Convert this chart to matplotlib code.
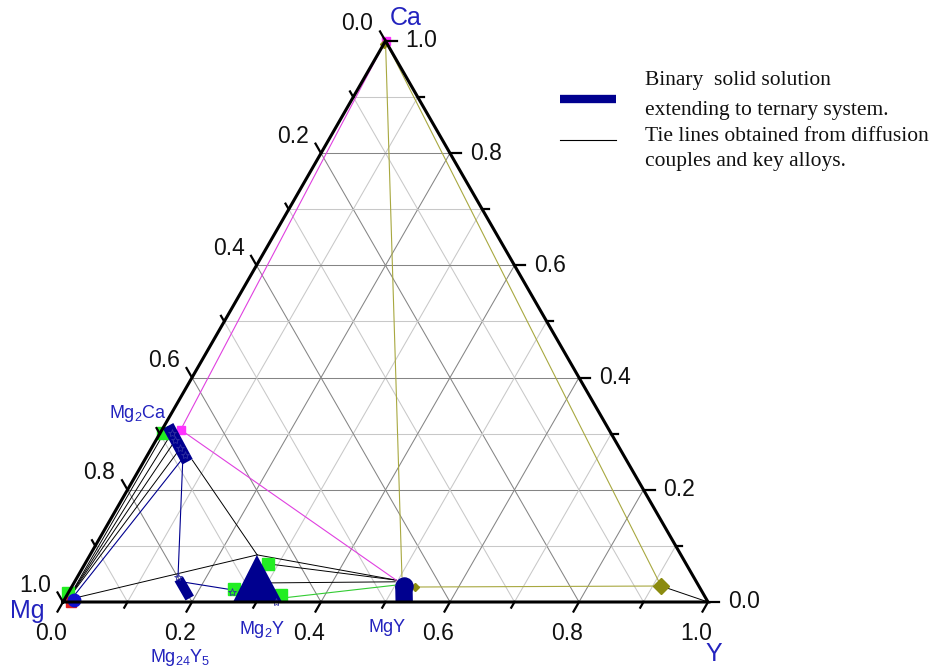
import numpy as np
import matplotlib
matplotlib.use("Agg")
import matplotlib.pyplot as plt

plt.rcParams['mathtext.default'] = 'regular'

# ---------------- data (ternary: Y fraction, Ca fraction; Mg = 1 - Y - Ca) -------------
tick_values = [0.0, 0.2, 0.4, 0.6, 0.8, 1.0]
tick_labels = ["0.0", "0.2", "0.4", "0.6", "0.8", "1.0"]
minor_values = [0.1, 0.3, 0.5, 0.7, 0.9]

# binary solid solutions extending into the ternary (thick blue bands)
mg2ca_band_Y = [0.006, 0.068]
mg2ca_band_Ca = [0.314, 0.250]
mg24y5_band_Y = [0.159, 0.193]
mg24y5_band_Ca = [0.041, 0.007]
mgy_band_Y = [0.529, 0.514]
mgy_band_Ca = [0.000, 0.029]
mg2y_region_Y = [0.2636, 0.3395, 0.2587]
mg2y_region_Ca = [0.000, 0.000, 0.0838]

# black tie lines (start Y, start Ca, end Y, end Ca)
black_tie_Y0 = [0.005, 0.005, 0.005, 0.005, 0.005, 0.074, 0.259, 0.284, 0.299, 0.913]
black_tie_Ca0 = [0.003, 0.003, 0.003, 0.003, 0.004, 0.253, 0.084, 0.068, 0.034, 0.0285]
black_tie_Y1 = [0.006, 0.018, 0.030, 0.045, 0.259, 0.259, 0.497, 0.497, 0.497, 1.000]
black_tie_Ca1 = [0.312, 0.301, 0.288, 0.274, 0.084, 0.084, 0.039, 0.039, 0.036, 0.000]

# blue tie lines
blue_tie_Y = [[0.010, 0.058], [0.0616, 0.156], [0.168, 0.253]]
blue_tie_Ca = [[0.003, 0.258], [0.2478, 0.0446], [0.0357, 0.0214]]

# green tie line
green_tie_Y = [0.336, 0.500]
green_tie_Ca = [0.007, 0.030]

# magenta tie lines
magenta_Y = [0.000, 0.029, 0.497]
magenta_Ca = [1.000, 0.307, 0.039]

# olive tie lines
olive_tie_Y = [[0.000, 0.503], [0.000, 0.913], [0.532, 0.913]]
olive_tie_Ca = [[1.000, 0.045], [1.000, 0.0285], [0.0267, 0.0285]]

# markers
green_sq_Y = [0.000, 0.004, 0.284, 0.332, 0.2535]
green_sq_Ca = [0.016, 0.301, 0.068, 0.0125, 0.023]
magenta_pt_Y = [0.029, 0.000]
magenta_pt_Ca = [0.307, 1.000]
red_pt_Y = [0.012]
red_pt_Ca = [0.000]
blue_pt_Y = [0.015]
blue_pt_Ca = [0.004]
olive_big_Y = [0.913]
olive_big_Ca = [0.0285]
olive_small_Y = [0.532, 0.000]
olive_small_Ca = [0.0267, 0.995]
star_Y = [0.018, 0.030, 0.045, 0.058, 0.156, 0.253, 0.330]
star_Ca = [0.301, 0.288, 0.274, 0.262, 0.045, 0.018, 0.000]

NAVY = "#00008F"
LBLUE = "#2323BE"
OLIVE = "#A8A840"
MAG = "#E040E0"
S3 = np.sqrt(3) / 2


def tern(y, c):
    y = np.asarray(y, dtype=float)
    c = np.asarray(c, dtype=float)
    return y + c / 2.0, c * S3


W, H = 934, 669
fig = plt.figure(figsize=(W / 100, H / 100), dpi=100)
ax = fig.add_axes([0, 0, 1, 1])
ax.set_xlim(-63 / 645, 871 / 645)
ax.set_ylim(-67 / 647.8, 602 / 647.8)
ax.axis("off")

# ---------------- grid ----------------
for v in np.round(np.arange(0.1, 1.0, 0.1), 2):
    col = "#858585" if abs(round(v * 10) % 2) < 1e-9 else "#c8c8c8"
    x, yy = tern([0, 1 - v], [v, v])
    ax.plot(x, yy, color=col, lw=0.75, zorder=1)
    x, yy = tern([v, v], [0, 1 - v])
    ax.plot(x, yy, color=col, lw=0.75, zorder=1)
    x, yy = tern([1 - v, 0], [0, 1 - v])
    ax.plot(x, yy, color=col, lw=0.75, zorder=1)

# ---------------- tie lines ----------------
for y0, c0, y1, c1 in zip(black_tie_Y0, black_tie_Ca0, black_tie_Y1, black_tie_Ca1):
    x, yy = tern([y0, y1], [c0, c1])
    ax.plot(x, yy, color="black", lw=0.7, zorder=3)
for ys, cs in zip(blue_tie_Y, blue_tie_Ca):
    x, yy = tern(ys, cs)
    ax.plot(x, yy, color=NAVY, lw=0.8, zorder=3)
x, yy = tern(green_tie_Y, green_tie_Ca)
ax.plot(x, yy, color="#33CC33", lw=0.8, zorder=3)
x, yy = tern(magenta_Y, magenta_Ca)
ax.plot(x, yy, color=MAG, lw=0.8, zorder=3)
for ys, cs in zip(olive_tie_Y, olive_tie_Ca):
    x, yy = tern(ys, cs)
    ax.plot(x, yy, color=OLIVE, lw=0.8, zorder=3)

# ---------------- markers ----------------
x, yy = tern(green_sq_Y, green_sq_Ca)
ax.plot(x, yy, "s", color="#22EE22", ms=8, mec="#22EE22", zorder=4)
x, yy = tern(magenta_pt_Y, magenta_pt_Ca)
ax.plot(x, yy, "s", color="#FF33FF", ms=6, zorder=4)
x, yy = tern(red_pt_Y, red_pt_Ca)
ax.plot(x, yy, "s", color="#E02020", ms=7, zorder=4)
x, yy = tern(blue_pt_Y, blue_pt_Ca)
ax.plot(x, yy, "o", color="#1010D0", ms=9, zorder=5)
x, yy = tern(olive_big_Y, olive_big_Ca)
ax.plot(x, yy, "D", color="#8B8B10", ms=8, zorder=5)
x, yy = tern(olive_small_Y, olive_small_Ca)
ax.plot(x, yy, "D", color="#8B8B10", ms=4, zorder=5)

# ---------------- solid-solution bands ----------------
x, yy = tern(mg2ca_band_Y, mg2ca_band_Ca)
ax.plot(x, yy, color=NAVY, lw=8.5, solid_capstyle="butt", zorder=6)
x, yy = tern(mg24y5_band_Y, mg24y5_band_Ca)
ax.plot(x, yy, color=NAVY, lw=7, solid_capstyle="butt", zorder=6)
x, yy = tern(mgy_band_Y, mgy_band_Ca)
ax.plot(x, yy, color=NAVY, lw=12.5, solid_capstyle="butt", zorder=6)
ax.plot(x[-1:], yy[-1:], "o", color=NAVY, ms=12.3, zorder=6)
x, yy = tern(mg2y_region_Y, mg2y_region_Ca)
ax.fill(x, yy, color=NAVY, lw=0, zorder=6)
x, yy = tern(star_Y, star_Ca)
ax.plot(x, yy, "*", mfc="none", mec="#3030A0", ms=6, mew=0.6, zorder=7)

# ---------------- triangle frame ----------------
x, yy = tern([0, 1, 0, 0], [0, 0, 1, 0])
ax.plot(x, yy, color="black", lw=2.2, solid_joinstyle="miter", zorder=8)

# ---------------- ticks and tick labels ----------------
maj, mnr = 11 / 645, 6.5 / 645
tick_font = dict(family="Liberation Sans", size=16.5, color="#111111")
for v, lab in zip(tick_values, tick_labels):
    x0, y0 = tern(v, 0)
    ax.plot([x0, x0 - 0.5 * maj], [y0, y0 - S3 * maj], color="black", lw=1.6, zorder=8)
    ax.annotate(lab, (x0, y0), xytext=(-12, -31), textcoords="offset pixels",
                ha="center", va="center", **tick_font)
    x0, y0 = tern(0, 1 - v)
    ax.plot([x0, x0 - 0.5 * maj], [y0, y0 + S3 * maj], color="black", lw=1.6, zorder=8)
    ax.annotate(lab, (x0, y0), xytext=(-28, 17), textcoords="offset pixels",
                ha="center", va="center", **tick_font)
    x0, y0 = tern(1 - v, v)
    ax.plot([x0, x0 + maj], [y0, y0], color="black", lw=1.6, zorder=8)
    ax.annotate(lab, (x0, y0), xytext=(36, 0), textcoords="offset pixels",
                ha="center", va="center", **tick_font)
for v in minor_values:
    x0, y0 = tern(v, 0)
    ax.plot([x0, x0 - 0.5 * mnr], [y0, y0 - S3 * mnr], color="black", lw=1.6, zorder=8)
    x0, y0 = tern(0, 1 - v)
    ax.plot([x0, x0 - 0.5 * mnr], [y0, y0 + S3 * mnr], color="black", lw=1.6, zorder=8)
    x0, y0 = tern(1 - v, v)
    ax.plot([x0, x0 + mnr], [y0, y0], color="black", lw=1.6, zorder=8)


# ---------------- text labels (pixel positions) ----------------
def ftext(px, py, s, va="center", **kw):
    fig.text(px / W, 1 - py / H, s, ha="center", va=va, **kw)


corner = dict(family="Liberation Sans", size=18, color=LBLUE)
ftext(406, 18, "Ca", **corner)
ftext(27, 611, "Mg", **corner)
ftext(714, 654, "Y", **corner)

comp = dict(family="Liberation Sans", size=13, color=LBLUE)
ftext(138, 413, "Mg$_2$Ca", **comp)
ftext(180, 657, "Mg$_{24}$Y$_5$", **comp)
ftext(262, 629, "Mg$_2$Y", **comp)
ftext(387, 628, "MgY", **comp)

# ---------------- legend ----------------
fig.add_artist(plt.Line2D([560 / W, 616 / W], [1 - 99 / H, 1 - 99 / H], color=NAVY, lw=6,
                          solid_capstyle="butt"))
fig.add_artist(plt.Line2D([560 / W, 616 / W], [1 - 140 / H, 1 - 140 / H], color="black", lw=0.8))
leg = dict(family="Liberation Serif", size=15.5, color="#111111", ha="left", va="baseline")
fig.text(645 / W, 1 - 85 / H, "Binary  solid solution", **leg)
fig.text(645 / W, 1 - 115 / H, "extending to ternary system.", **leg)
fig.text(645 / W, 1 - 141 / H, "Tie lines obtained from diffusion", **leg)
fig.text(645 / W, 1 - 166 / H, "couples and key alloys.", **leg)

fig.savefig("out.png", dpi=100)
